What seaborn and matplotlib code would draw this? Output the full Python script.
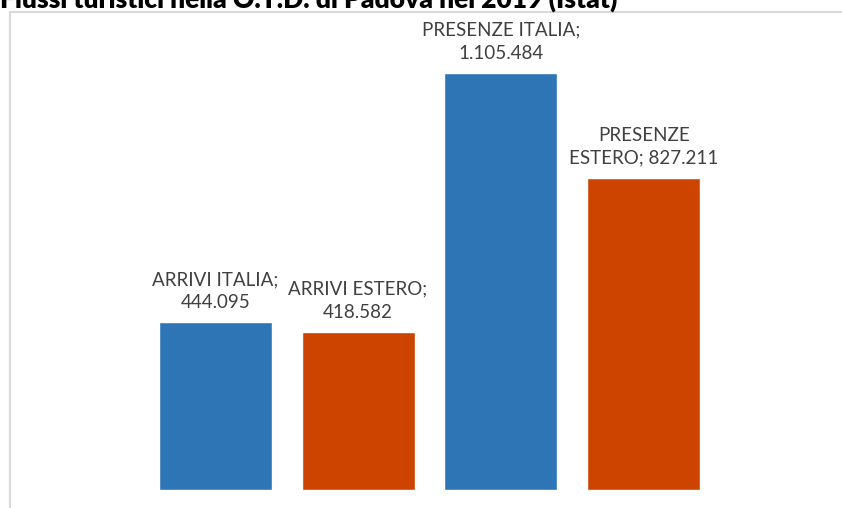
import matplotlib
matplotlib.use('Agg')
import matplotlib.pyplot as plt
import matplotlib.patches as mpatches
import seaborn as sns
import pandas as pd

# dati Istat 2019
categorie = ['ARRIVI ITALIA', 'ARRIVI ESTERO', 'PRESENZE ITALIA', 'PRESENZE ESTERO']
valori = [444095, 418582, 1105484, 827211]
etichette = ['ARRIVI ITALIA;\n444.095', 'ARRIVI ESTERO;\n418.582',
             'PRESENZE ITALIA;\n1.105.484', 'PRESENZE\nESTERO; 827.211']
colori = ['#2E75B6', '#CC4400', '#2E75B6', '#CC4400']
titolo = 'Flussi turistici nella O.T.D. di Padova nel 2019 (Istat)'

df = pd.DataFrame({'categoria': categorie, 'valore': valori})

sns.set_style('white')
plt.rcParams['font.family'] = ['Lato', 'DejaVu Sans']

W, H = 842, 508
fig = plt.figure(figsize=(W / 100, H / 100), dpi=100)
ax = fig.add_axes([144 / W, 1 - 490 / H, (715 - 144) / W, (490 - 12) / H])

sns.barplot(data=df, x='categoria', y='valore', hue='categoria', palette=colori,
            width=0.79, saturation=1, legend=False, ax=ax)

ax.set_xlim(-0.5, 3.5)
ax.set_ylim(0, 1105484 * (490 - 12) / (490 - 73))
ax.axis('off')

for i, (v, t) in enumerate(zip(valori, etichette)):
    ax.annotate(t, (i, v), xytext=(0, 8), textcoords='offset points',
                ha='center', va='bottom', fontsize=13.5, color='#404040',
                linespacing=1.45)

# cornice del grafico
fig.patches.append(mpatches.Rectangle((10 / W, -0.1), 1.2, 1.1 - 12 / H,
                                      transform=fig.transFigure, fill=False,
                                      edgecolor='#D9D9D9', linewidth=1.5))

fig.text(0.0, 1 - 8 / H, titolo, fontsize=19, fontweight='heavy',
         color='black', ha='left', va='baseline')

fig.savefig('out.png', dpi=100)
